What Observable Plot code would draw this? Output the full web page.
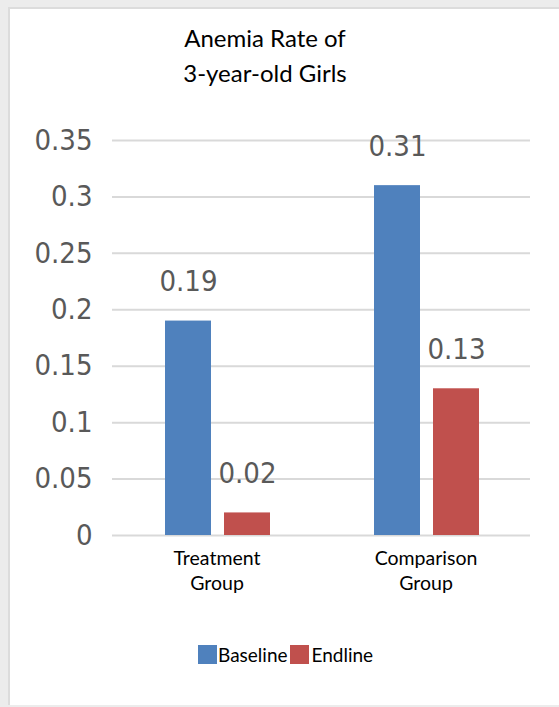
<!DOCTYPE html>
<html><head><meta charset="utf-8">
<script src="https://cdn.jsdelivr.net/npm/d3@7"></script>
<script src="https://cdn.jsdelivr.net/npm/@observablehq/plot@0.6"></script>
<style>
html,body{margin:0;padding:0;}
body{width:559px;height:707px;background:#ececec;position:relative;overflow:hidden;font-family:Lato,sans-serif;}
#card{position:absolute;left:8px;top:7px;right:0;bottom:2px;background:#fff;border-left:2px solid #dcdcdc;border-top:2px solid #dcdcdc;}
#title{position:absolute;left:0;width:530px;top:20px;text-align:center;font-size:24px;line-height:35px;color:#000;}
#chart{position:absolute;left:0;top:120px;}
#legend{position:absolute;top:643px;left:198px;display:flex;align-items:center;font-size:19px;color:#000;}
.sw{width:19px;height:19px;}
</style></head>
<body>
<div id="card"></div>
<div id="title">Anemia Rate of<br>3-year-old Girls</div>
<div id="chart"></div>
<div id="legend"></div>
<script>
const groups = ["Treatment Group", "Comparison Group"];
const groupLabels = ["Treatment\nGroup", "Comparison\nGroup"];
const series = ["Baseline", "Endline"];
const baselineValues = [0.19, 0.31];
const endlineValues = [0.02, 0.13];
const baselineLabels = ["0.19", "0.31"];
const endlineLabels = ["0.02", "0.13"];
const colors = ["#4F81BD", "#C0504D"];
const yTicks = [0, 0.05, 0.1, 0.15, 0.2, 0.25, 0.3, 0.35];
const yTickLabels = ["0", "0.05", "0.1", "0.15", "0.2", "0.25", "0.3", "0.35"];

const baseData = groups.map((g, i) => ({group: g, series: series[0], value: baselineValues[i], label: baselineLabels[i]}));
const endData = groups.map((g, i) => ({group: g, series: series[1], value: endlineValues[i], label: endlineLabels[i]}));

// layout (pixels): each group band is 103px wide; bar 46px, gap 13px
const bandW = 103, barW = 46, gapW = 13;
const numFont = "DejaVu Sans Condensed";
const labelStyle = {fontSize: 29, fontFamily: numFont, fill: "#595959", lineAnchor: "bottom"};

const chart = Plot.plot({
  width: 559, height: 480,
  marginLeft: 112, marginRight: 29, marginTop: 20, marginBottom: 65,
  style: {background: "transparent", overflow: "visible"},
  x: {domain: groups, paddingInner: 0.507, paddingOuter: 0.2535, label: null},
  y: {domain: [0, 0.35], axis: null},
  color: {domain: series, range: colors},
  marks: [
    Plot.ruleY(yTicks, {stroke: "#d9d9d9", strokeWidth: 2}),
    Plot.axisY({ticks: yTicks, tickFormat: (d) => yTickLabels[yTicks.indexOf(d)], tickSize: 0, tickPadding: 20,
      fontSize: 29, fontFamily: numFont, fill: "#595959", label: null}),
    Plot.barY(baseData, {x: "group", y: "value", fill: "series", insetLeft: 0, insetRight: bandW - barW}),
    Plot.barY(endData, {x: "group", y: "value", fill: "series", insetLeft: barW + gapW, insetRight: bandW - 2 * barW - gapW}),
    Plot.text(baseData, {x: "group", y: "value", text: "label", dy: -30, dx: barW / 2 - bandW / 2, ...labelStyle}),
    Plot.text(endData, {x: "group", y: "value", text: "label", dy: -30, dx: barW + gapW + barW / 2 - bandW / 2, ...labelStyle}),
    Plot.axisX({anchor: "bottom", tickSize: 0, tickPadding: 11, tickFormat: (d) => groupLabels[groups.indexOf(d)],
      fontSize: 19.5, lineHeight: 1.3, fontFamily: "Lato", fill: "#000", label: null})
  ]
});
document.getElementById("chart").appendChild(chart);

const legend = document.getElementById("legend");
series.forEach((s, i) => {
  const sw = document.createElement("div");
  sw.className = "sw";
  sw.style.background = colors[i];
  if (i > 0) sw.style.marginLeft = "2px";
  legend.appendChild(sw);
  const t = document.createElement("span");
  t.textContent = s;
  t.style.marginLeft = i > 0 ? "3px" : "1px";
  legend.appendChild(t);
});
</script>
</body></html>
